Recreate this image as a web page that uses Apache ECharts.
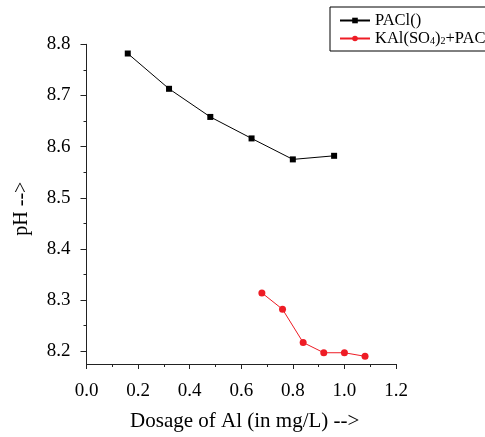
<!DOCTYPE html>
<html>
<head>
<meta charset="utf-8">
<script src="https://cdn.jsdelivr.net/npm/echarts@6/dist/echarts.min.js"></script>
<style>html,body{margin:0;padding:0;background:#fff}#c{width:485px;height:437px}</style>
</head>
<body>
<div id="c"></div>
<script>
const pacX = [0.16, 0.32, 0.48, 0.64, 0.80, 0.96];
const pacY = [8.782, 8.713, 8.658, 8.616, 8.575, 8.582];
const kalX = [0.68, 0.76, 0.84, 0.92, 1.00, 1.08];
const kalY = [8.314, 8.282, 8.217, 8.197, 8.197, 8.190];
const yMajor = [8.2, 8.3, 8.4, 8.5, 8.6, 8.7, 8.8];
const yMinor = [8.25, 8.35, 8.45, 8.55, 8.65, 8.75];
const seriesNames = ['PACl()', 'KAl(SO4)2+PACl'];
const xTitle = 'Dosage of Al (in mg/L) -->';
const yTitle = 'pH -->';

const FONT = "'Liberation Serif', 'Times New Roman', serif";
const chart = echarts.init(document.getElementById('c'), null, {renderer: 'canvas'});
const axisCol = '#222';
chart.setOption({
  animation: false,
  backgroundColor: '#fff',
  textStyle: {fontFamily: FONT, color: '#000'},
  grid: {left: 86.5, right: 89, top: 44.3, bottom: 70.3, containLabel: false},
  legend: {
    left: 330, top: 7, orient: 'vertical',
    borderColor: '#000', borderWidth: 1, borderRadius: 0,
    padding: [5, 6, 4, 9], itemWidth: 30, itemHeight: 7, itemGap: 0,
    data: seriesNames,
    formatter: function (n) {
      if (n === seriesNames[1]) return '{a|KAl(SO}{s|4}{a|)}{s|2}{a|+PACl}';
      return '{a|' + n + '}';
    },
    textStyle: {
      fontFamily: FONT, fontSize: 16.5, color: '#000',
      rich: {
        a: {fontFamily: FONT, fontSize: 16.5, color: '#000', lineHeight: 15},
        s: {fontFamily: FONT, fontSize: 10, color: '#000', lineHeight: 15, verticalAlign: 'bottom', padding: [7, 0, 0, 0]}
      }
    }
  },
  xAxis: {
    type: 'value', min: 0, max: 1.2, interval: 0.2,
    name: xTitle, nameLocation: 'middle', nameGap: 47,
    nameTextStyle: {fontFamily: FONT, fontSize: 21, color: '#000', padding: [0, 0, 0, 7]},
    axisLine: {show: true, lineStyle: {color: axisCol, width: 1}},
    axisTick: {show: true, inside: false, length: 5, lineStyle: {color: axisCol}},
    minorTick: {show: true, splitNumber: 2, length: 3, lineStyle: {color: axisCol}},
    axisLabel: {fontFamily: FONT, fontSize: 19, color: '#000', margin: 18,
      formatter: v => v.toFixed(1)},
    splitLine: {show: false}
  },
  yAxis: [{
    type: 'value', min: 8.175, max: 8.8,
    name: yTitle, nameLocation: 'middle', nameGap: 55,
    nameTextStyle: {fontFamily: FONT, fontSize: 20, color: '#000', padding: [0, 9, 0, 0]},
    axisLine: {show: true, lineStyle: {color: axisCol, width: 1}},
    axisTick: {show: true, inside: false, length: 6, customValues: yMajor, lineStyle: {color: axisCol}},
    axisLabel: {fontFamily: FONT, fontSize: 19, color: '#000', margin: 16, customValues: yMajor,
      formatter: v => v.toFixed(1)},
    splitLine: {show: false}
  }, {
    type: 'value', min: 8.175, max: 8.8, position: 'left',
    axisLine: {show: false},
    axisTick: {show: true, inside: false, length: 3, customValues: yMinor, lineStyle: {color: axisCol}},
    axisLabel: {show: false},
    splitLine: {show: false}
  }],
  series: [{
    name: seriesNames[0], type: 'line', yAxisIndex: 0,
    data: pacX.map((x, i) => [x, pacY[i]]),
    symbol: 'rect', symbolSize: 6,
    itemStyle: {color: '#000'}, lineStyle: {color: '#000', width: 1}
  }, {
    name: seriesNames[1], type: 'line', yAxisIndex: 0,
    data: kalX.map((x, i) => [x, kalY[i]]),
    symbol: 'circle', symbolSize: 7,
    itemStyle: {color: '#ee1c25'}, lineStyle: {color: '#ee1c25', width: 1}
  }]
});
</script>
</body>
</html>
